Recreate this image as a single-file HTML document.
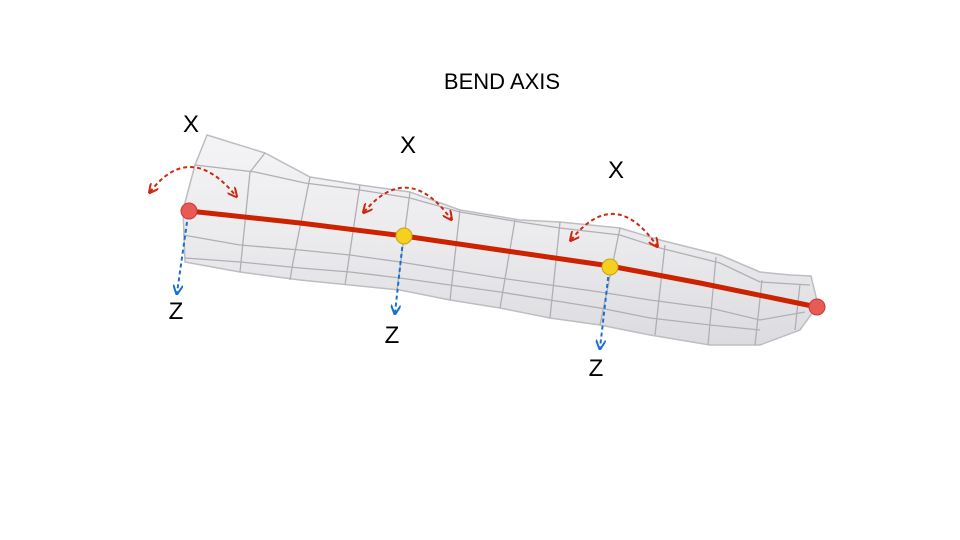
<!DOCTYPE html>
<html><head><meta charset="utf-8"><style>
html,body{margin:0;padding:0;background:#fff;}
svg{display:block;font-family:"Liberation Sans",sans-serif;}
</style></head><body>
<svg width="960" height="540" viewBox="0 0 960 540">
<defs>
<linearGradient id="tg" x1="0" y1="0" x2="0" y2="1">
<stop offset="0" stop-color="#f4f4f6"/><stop offset="0.5" stop-color="#ebebee"/><stop offset="1" stop-color="#dcdce0"/>
</linearGradient>
<marker id="ar" viewBox="0 0 10 10" refX="8" refY="5" markerWidth="5" markerHeight="5" orient="auto-start-reverse"><path d="M0,0 L10,5 L0,10" fill="none" stroke="#cc2a10" stroke-width="2"/></marker>
<marker id="ab" viewBox="0 0 10 10" refX="8" refY="5" markerWidth="5" markerHeight="5" orient="auto-start-reverse"><path d="M0,0 L10,5 L0,10" fill="none" stroke="#1a6fd0" stroke-width="2"/></marker>
</defs>
<text x="502" y="89" font-size="22" text-anchor="middle" fill="#000">BEND AXIS</text>
<g>
<path d="M207,135 L265,153 L310,177 L360,185 L410,192 L460,210 L520,220 L560,222 L620,228 L660,240 L720,255 L760,272 L790,275 L811,276 L818,305 L800,330 L760,345 L710,345 L650,335 L600,325 L550,318 L500,308 L450,300 L400,290 L350,285 L300,280 L240,272 L185,262 L183,210 L195,165 Z" fill="url(#tg)" stroke="#bdbdc2" stroke-width="1.5"/>
<g fill="none" stroke="#b0b0b4" stroke-width="1.3">
<polyline points="195,165 255,172 305,183 360,190 410,198 460,212 520,222 560,228 620,235 660,248 720,263 760,282 810,285"/>
<polyline points="183,235 240,245 300,250 350,255 400,262 450,270 500,278 550,285 600,292 650,300 710,308 760,320 805,312"/>
<polyline points="185,258 240,262 300,268 350,272 400,278 450,285 500,292 550,300 600,308 650,318 710,325 760,330"/>
<line x1="265" y1="153" x2="250" y2="172"/><line x1="250" y1="172" x2="240" y2="272"/>
<line x1="310" y1="177" x2="293" y2="262"/><line x1="293" y1="262" x2="290" y2="280"/>
<line x1="360" y1="185" x2="345" y2="285"/>
<line x1="410" y1="192" x2="397" y2="290"/>
<line x1="460" y1="210" x2="450" y2="300"/>
<line x1="515" y1="220" x2="500" y2="308"/>
<line x1="560" y1="222" x2="550" y2="318"/>
<line x1="620" y1="228" x2="600" y2="325"/>
<line x1="665" y1="245" x2="655" y2="335"/>
<line x1="716" y1="257" x2="708" y2="345"/>
<line x1="762" y1="280" x2="755" y2="345"/>
<line x1="800" y1="284" x2="795" y2="330"/>
</g>
</g>
<polyline points="189,211 300,223 404,236 500,250 610,266 700,283 817,307" fill="none" stroke="#cc2200" stroke-width="5" stroke-linecap="round"/>
<g fill="none" stroke-width="2" stroke-dasharray="4,3">
<path d="M150,192 Q190,140 236,196" stroke="#cc2a10" marker-start="url(#ar)" marker-end="url(#ar)"/>
<path d="M364,212 Q408,160 451,219" stroke="#cc2a10" marker-start="url(#ar)" marker-end="url(#ar)"/>
<path d="M571,240 Q615,185 657,246" stroke="#cc2a10" marker-start="url(#ar)" marker-end="url(#ar)"/>
<path d="M188,215 L177,293" stroke="#1a6fd0" marker-end="url(#ab)"/>
<path d="M403,240 L395,313" stroke="#1a6fd0" marker-end="url(#ab)"/>
<path d="M609,270 L600,348" stroke="#1a6fd0" marker-end="url(#ab)"/>
</g>
<circle cx="189" cy="211" r="8" fill="#e85a55" stroke="#c83a35"/>
<circle cx="404" cy="236" r="8" fill="#f5d020" stroke="#c8a010"/>
<circle cx="610" cy="267" r="8" fill="#f5d020" stroke="#c8a010"/>
<circle cx="817" cy="307" r="8" fill="#e85a55" stroke="#c83a35"/>
<g font-size="24" fill="#000" text-anchor="middle">
<text x="191" y="132">X</text>
<text x="408" y="153">X</text>
<text x="616" y="178">X</text>
<text x="176" y="319">Z</text>
<text x="392" y="343">Z</text>
<text x="596" y="376">Z</text>
</g>
</svg>
</body></html>
